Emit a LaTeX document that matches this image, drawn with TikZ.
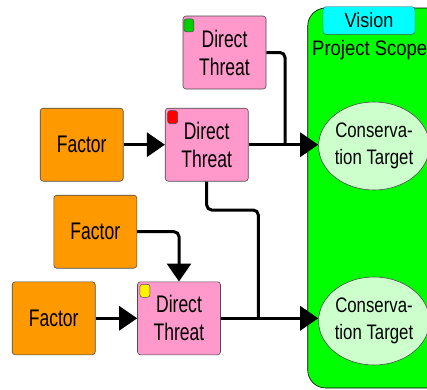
\documentclass[tikz,border=0pt]{standalone}
\usepackage{fontspec}
\setmainfont{Liberation Sans}[FakeStretch=0.73]
\newfontfamily\targetfont{Liberation Sans}[FakeStretch=0.8]
\newfontfamily\scopefont{Liberation Sans}[FakeStretch=0.88]
\usetikzlibrary{arrows.meta,shapes.geometric}

\definecolor{factorcol}{RGB}{255,153,0}
\definecolor{threatcol}{RGB}{255,153,204}
\definecolor{targetcol}{RGB}{204,255,204}
\definecolor{scopecol}{RGB}{0,255,0}
\definecolor{visioncol}{RGB}{0,255,255}

\begin{document}
\begin{tikzpicture}[x=1pt,y=-1pt,
  box/.style={draw=black!70,line width=0.6pt,rounded corners=3pt,
    minimum width=83pt,minimum height=73pt,inner sep=0pt,align=center,
    font=\fontsize{24}{28}\selectfont},
  factor/.style={box,fill=factorcol},
  threat/.style={box,fill=threatcol},
  target/.style={ellipse,draw=black!70,line width=0.6pt,fill=targetcol,
    minimum width=105pt,minimum height=88pt,inner sep=0pt,align=center,
    font=\targetfont\fontsize{21}{26.7}\selectfont},
  flag/.style={draw=black!70,line width=0.5pt,rounded corners=2.5pt,
    minimum width=10pt,minimum height=13pt,inner sep=0pt,anchor=north west},
  link/.style={line width=3pt,rounded corners=5pt},
  arrow/.style={link,-{Triangle[length=18pt,width=24pt]}}]
  \useasboundingbox (0,0) rectangle (427,389);
  \clip (0,0) rectangle (427,389);

  % project scope
  \draw[fill=scopecol,line width=0.6pt,rounded corners=18pt]
    (307.7,8) rectangle (480,388);
  \node[draw=black!70,fill=visioncol,rounded corners=3pt,inner sep=0pt,
    minimum width=92pt,minimum height=27.6pt,
    font=\scopefont\fontsize{20.5}{24}\selectfont] (vision) at (369,20.5) {Vision};
  \node[anchor=base west,inner sep=0pt,
    font=\scopefont\fontsize{21}{25}\selectfont]
    (scope) at (312,55) {Project Scope};
  \node[target] (targetA) at (374,146) {Conserva-\\tion Target};
  \node[target] (targetB) at (374,321) {Conserva-\\tion Target};

  % threats and factors
  \node[threat] (threatA) at (224.5,52.5) {Direct\\Threat};
  \node[threat] (threatB) at (206.7,144.7) {Direct\\Threat};
  \node[threat] (threatC) at (179,318.3) {Direct\\Threat};
  \node[factor] (factorA) at (81.7,144.7) {Factor};
  \node[factor] (factorB) at (95.3,231.7) {Factor};
  \node[factor] (factorC) at (53.7,318.3) {Factor};

  \node[flag,fill=green!80!black] (flagA)
    at ([shift={(1pt,-3pt)}]threatA.north west) {};
  \node[flag,fill=red] (flagB)
    at ([shift={(2.5pt,-2.5pt)}]threatB.north west) {};
  \node[flag,fill=yellow] (flagC)
    at ([shift={(2.5pt,-2.5pt)}]threatC.north west) {};

  % links
  \coordinate (joinA) at (285,0);
  \coordinate (jogB) at (258.3,210);
  \draw[link] (threatA.east) -| (joinA |- threatB.east);
  \draw[link] (threatB.south) |- (jogB) -- (jogB |- threatC.east);
  \draw[arrow] (factorA) -- (threatB);
  \draw[arrow] (factorC) -- (threatC);
  \draw[arrow] (factorB.east) -| (threatC.north);
  \draw[arrow] (threatB.east) -- (threatB.east -| targetA.west);
  \draw[arrow] (threatC.east) -- (threatC.east -| targetB.west);
\end{tikzpicture}
\end{document}
